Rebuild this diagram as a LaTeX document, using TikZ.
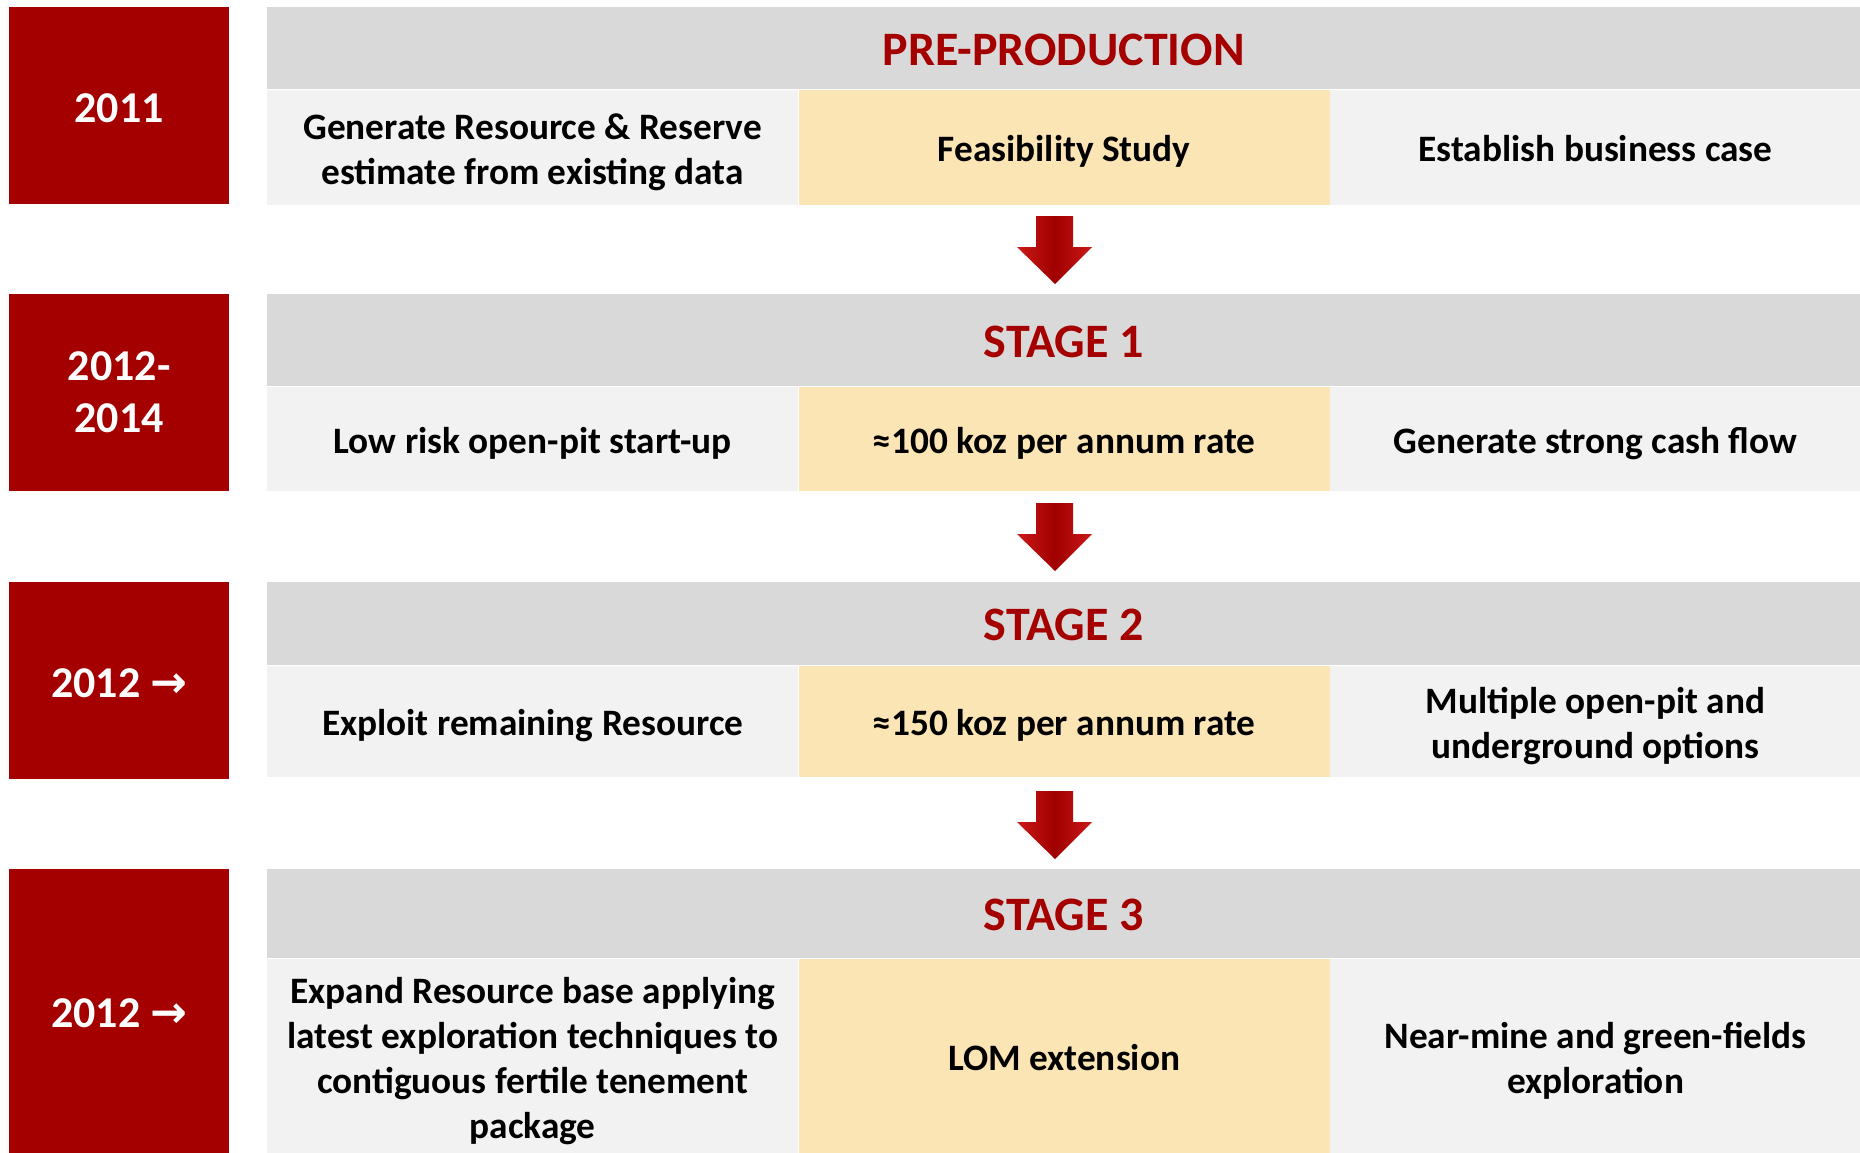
\documentclass[tikz,border=0pt]{standalone}
\usepackage{fontspec}
\setmainfont{Carlito}
\newfontfamily\arrowfont{DejaVu Sans}
\usetikzlibrary{positioning}

\definecolor{yearred}{HTML}{A50000}
\definecolor{headgrey}{HTML}{D9D9D9}
\definecolor{cellgrey}{HTML}{F2F2F2}
\definecolor{cellgold}{HTML}{FCE5B5}
\definecolor{arrowred}{HTML}{A00000}
\definecolor{arrowhi}{HTML}{CC1818}

\newcommand{\yearon}{2012 {\arrowfont\bfseries →}}
\newcommand{\cellstrut}{\rule[-0.18\baselineskip]{0pt}{\baselineskip}}

\tikzset{
  yearbox/.style={fill=yearred, text=white, anchor=north west, inner sep=0pt,
    minimum width=220pt, align=center,
    font=\fontsize{44}{52}\selectfont\bfseries,
    execute at begin node={\rule{0pt}{33pt}}},
  headbar/.style={fill=headgrey, text=yearred, anchor=north west, inner sep=0pt,
    minimum width=1593pt, font=\fontsize{48}{56}\selectfont\bfseries,
    execute at begin node={\rule{0pt}{34pt}}},
  cell/.style={fill=cellgrey, inner xsep=5.5pt, inner ysep=0pt, text width=520pt,
    align=flush center, font=\fontsize{37.3}{45}\selectfont\bfseries,
    execute at begin node=\cellstrut, execute at end node=\cellstrut},
  midcell/.style={cell, fill=cellgold}
}

\begin{document}
\begin{tikzpicture}[x=1pt,y=-1pt]

\useasboundingbox (0,0) rectangle (1860,1153); % Canvas

% Year boxes
\foreach \n/\t/\h/\yr in {1/7/197/{2011},
                          2/294/197/{2012-\\2014},
                          3/582/197/{\yearon},
                          4/869/284/{\yearon}}
  \node[yearbox, minimum height=\h pt] (year\n) at (9,\t) {\yr};

% Stage headers
\foreach \n/\t/\h/\s in {1/7/82/PRE-PRODUCTION,
                         2/294/92/STAGE 1,
                         3/582/83/STAGE 2,
                         4/869/89/STAGE 3}
  \node[headbar, minimum height=\h pt] (head\n) at (267,\t) {\s};

% Row of cells under each header
\foreach \n/\h/\a/\b/\c in {
    1/115/{Generate Resource \& Reserve\\estimate from existing data}/{Feasibility Study}/{Establish business case},
    2/104/{Low risk open-pit start-up}/{≈100 koz per annum rate}/{Generate strong cash flow},
    3/111/{Exploit remaining Resource}/{≈150 koz per annum rate}/{Multiple open-pit and\\underground options},
    4/195/{Expand Resource base applying\\latest exploration techniques to\\contiguous fertile tenement\\package}/{LOM extension}/{Near-mine and green-fields\\exploration}} {

  \node[cell, anchor=north west, minimum height=\h pt] (left\n) at (head\n.south west) {\a};
  \node[midcell, minimum height=\h pt, right=0pt of left\n] (mid\n) {\b};
  \node[cell, minimum height=\h pt, right=0pt of mid\n] (right\n) {\c};
}

% Down arrows
\foreach \t in {216,503,791}
  \shade[left color=arrowhi, right color=arrowhi, middle color=arrowred]
    (1036,\t) -- (1073,\t) -- (1073,\t+31) -- (1092,\t+31)
    -- (1055,\t+68) -- (1017,\t+31) -- (1036,\t+31) -- cycle;

\end{tikzpicture}
\end{document}
